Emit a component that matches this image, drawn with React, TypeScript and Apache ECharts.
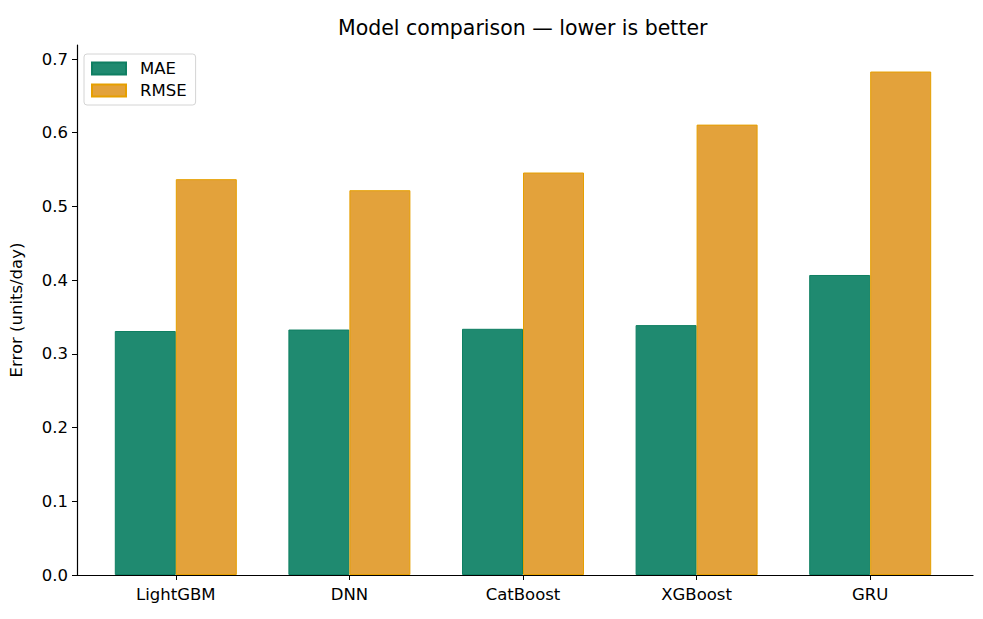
import { useEffect, useRef } from 'react';
import * as echarts from 'echarts';

const models = ['LightGBM', 'DNN', 'CatBoost', 'XGBoost', 'GRU'];
const maeValues = [0.331, 0.333, 0.334, 0.339, 0.407];
const rmseValues = [0.537, 0.522, 0.546, 0.611, 0.683];
const yTicks = [0, 0.1, 0.2, 0.3, 0.4, 0.5, 0.6, 0.7];

const FONT = 'DejaVu Sans, sans-serif';
const LABEL_SIZE = 16.5;

export default function App() {
  const ref = useRef<HTMLDivElement>(null);

  useEffect(() => {
    if (!ref.current) return;
    const chart = echarts.init(ref.current, undefined, { renderer: 'svg' });

    const yMax = 0.719;

    chart.setOption({
      animation: false,
      backgroundColor: '#fff',
      textStyle: { fontFamily: FONT },
      title: {
        text: 'Model comparison — lower is better',
        left: 338,
        top: 17,
        padding: 0,
        textStyle: { fontSize: 20.5, fontWeight: 'normal', color: '#000', fontFamily: FONT },
      },
      legend: {
        orient: 'vertical',
        left: 84,
        top: 54,
        padding: [6, 9, 6, 7],
        itemWidth: 34,
        itemHeight: 12,
        itemGap: 5,
        borderColor: '#d4d4d4',
        borderWidth: 1,
        borderRadius: 3,
        icon: 'rect',
        textStyle: { fontSize: LABEL_SIZE, color: '#000', fontFamily: FONT, padding: [0, 0, 0, 9] },
      },
      grid: [
        { left: 72, right: 10, top: 45, bottom: 44 },
        { left: 89, right: 26, top: 45, bottom: 44 },
      ],
      xAxis: [
        {
          type: 'value',
          gridIndex: 0,
          min: 0,
          max: 1,
          axisLine: { show: true, lineStyle: { color: '#000', width: 1.2 } },
          axisTick: { show: false },
          axisLabel: { show: false },
          splitLine: { show: false },
        },
        {
          type: 'category',
          gridIndex: 1,
          data: models,
          axisLine: { show: false },
          axisTick: { show: true, alignWithLabel: true, length: 5, lineStyle: { color: '#000' } },
          axisLabel: { fontSize: LABEL_SIZE, color: '#000', margin: 11, fontFamily: FONT },
          splitLine: { show: false },
        },
      ],
      yAxis: [
        {
          type: 'value',
          gridIndex: 0,
          min: 0,
          max: yMax,
          name: 'Error (units/day)',
          nameLocation: 'middle',
          nameGap: 52,
          nameTextStyle: { fontSize: LABEL_SIZE, color: '#000', fontFamily: FONT },
          axisLine: { show: true, lineStyle: { color: '#000', width: 1.2 } },
          axisTick: { show: true, length: 5, customValues: yTicks, lineStyle: { color: '#000' } },
          axisLabel: {
            fontSize: LABEL_SIZE,
            color: '#000',
            margin: 9,
            fontFamily: FONT,
            customValues: yTicks,
            formatter: (v: number) => v.toFixed(1),
          },
          splitLine: { show: false },
        },
        {
          type: 'value',
          gridIndex: 1,
          min: 0,
          max: yMax,
          show: false,
          splitLine: { show: false },
        },
      ],
      series: [
        {
          name: 'MAE',
          type: 'bar',
          xAxisIndex: 1,
          yAxisIndex: 1,
          data: maeValues,
          barWidth: 61,
          barGap: '0%',
          itemStyle: { color: '#1f8a70', borderColor: '#0f7f62', borderWidth: 1 },
        },
        {
          name: 'RMSE',
          type: 'bar',
          xAxisIndex: 1,
          yAxisIndex: 1,
          data: rmseValues,
          barWidth: 61,
          barGap: '0%',
          itemStyle: { color: '#e3a23b', borderColor: '#e69f00', borderWidth: 1 },
        },
      ],
    });

    return () => chart.dispose();
  }, []);

  return (
    <div
      ref={ref}
      style={{ position: 'fixed', left: 0, top: 0, width: 983, height: 619 }}
    />
  );
}
